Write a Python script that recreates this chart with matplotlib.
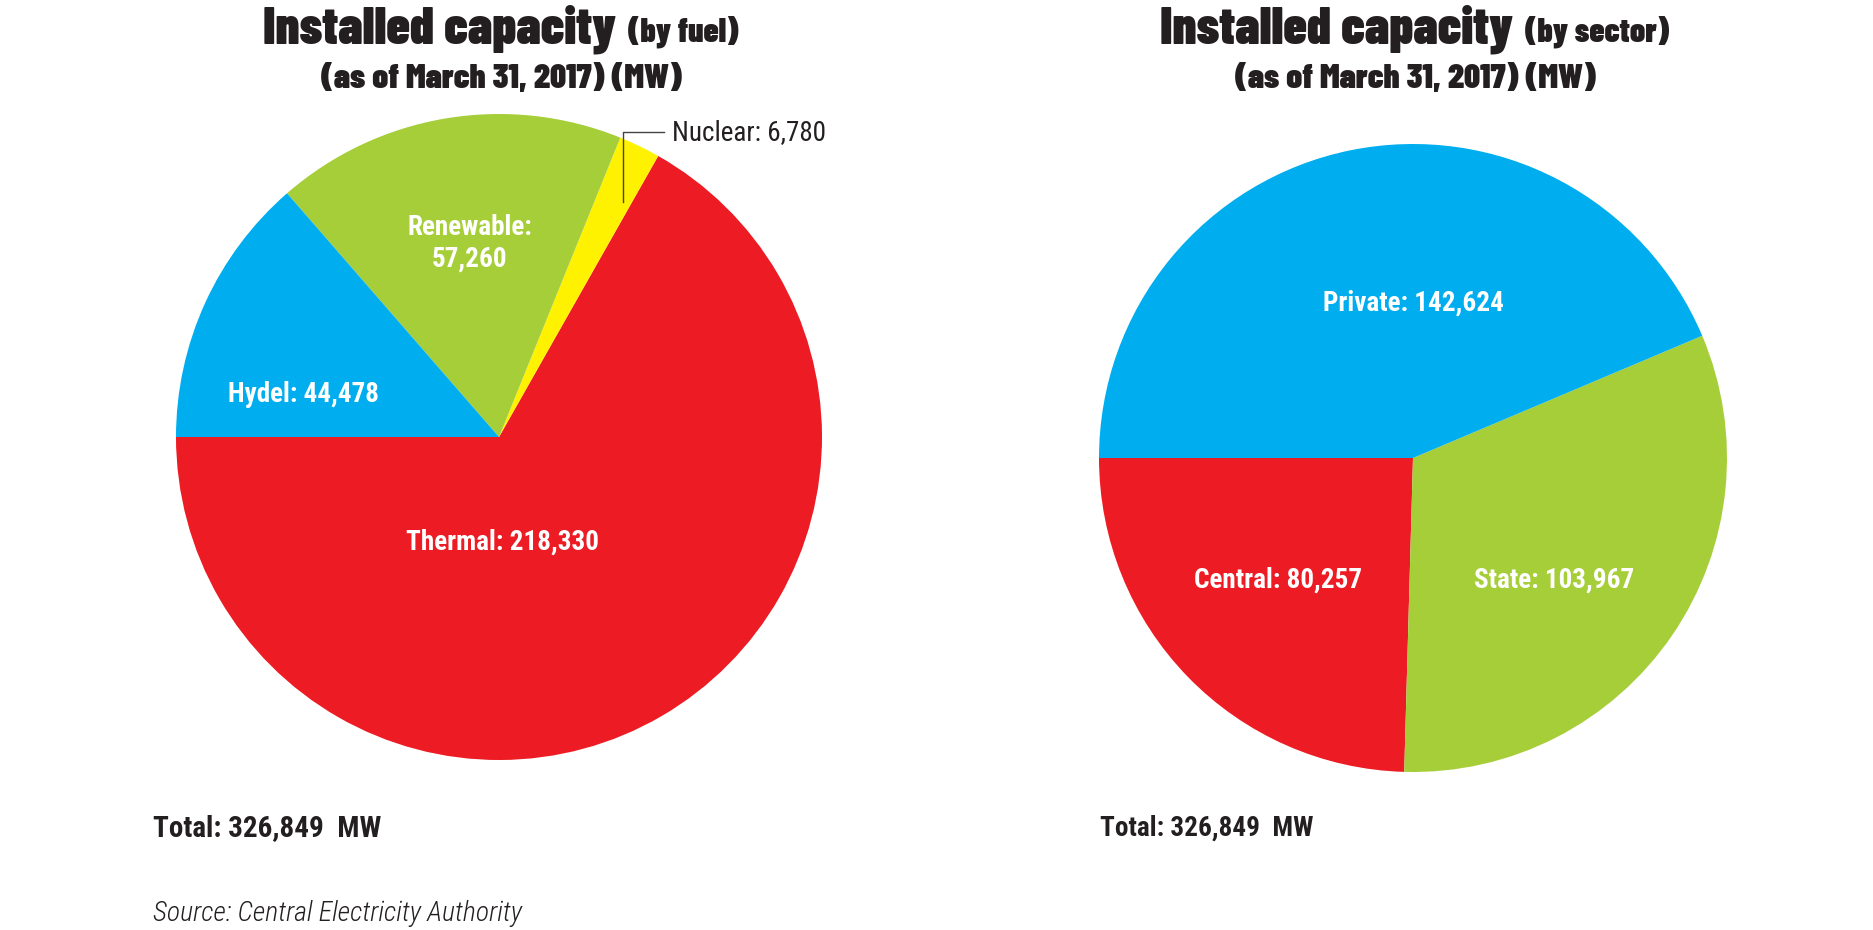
import matplotlib
matplotlib.use("Agg")
import matplotlib.pyplot as plt

# data (MW, as of March 31, 2017)
fuel_labels = ["Thermal", "Nuclear", "Renewable", "Hydel"]
fuel_values = [218330, 6780, 57260, 44478]
sector_labels = ["Central", "State", "Private"]
sector_values = [80257, 103967, 142624]
total_mw = 326849

RED = "#ED1C24"
BLUE = "#00AEEF"
GREEN = "#A6CE39"
YELLOW = "#FFF200"
INK = "#231F20"

fuel_colors = [RED, YELLOW, GREEN, BLUE]
sector_colors = [RED, GREEN, BLUE]

TITLE = ["Barlow Condensed", "DejaVu Sans"]
COND = ["Roboto Condensed", "DejaVu Sans"]

W, H = 1874, 930
fig = plt.figure(figsize=(W / 100, H / 100), dpi=100)


def pie_axes(cx, cy, r):
    # cx, cy, r in image pixels (y from top)
    ax = fig.add_axes([(cx - r) / W, (H - cy - r) / H, 2 * r / W, 2 * r / H])
    ax.set_aspect("equal")
    ax.axis("off")
    return ax


# left pie: by fuel
ax1 = pie_axes(499, 437, 323)
ax1.pie(fuel_values, colors=fuel_colors, startangle=180, counterclock=True,
        radius=1, wedgeprops=dict(linewidth=0))
ax1.set_xlim(-1, 1)
ax1.set_ylim(-1, 1)

lab = dict(family=COND, weight="bold", color="white", fontsize=19.5,
           ha="center", va="center")
fv = dict(zip(fuel_labels, fuel_values))
ax1.text(0.01, -0.325, f"Thermal: {fv['Thermal']:,}", **lab)
ax1.text(-0.605, 0.133, f"Hydel: {fv['Hydel']:,}", **lab)
ax1.text(-0.09, 0.60, f"Renewable:\n{fv['Renewable']:,}", linespacing=1.25, **lab)
ax1.plot([0.384, 0.384, 0.511], [0.728, 0.944, 0.944], color="#444444", lw=1.0,
         clip_on=False)
ax1.text(0.535, 0.944, f"Nuclear: {fv['Nuclear']:,}", family=COND, color=INK,
         fontsize=19.5, ha="left", va="center", clip_on=False)

# right pie: by sector
ax2 = pie_axes(1413, 458, 314)
ax2.pie(sector_values, colors=sector_colors, startangle=180, counterclock=True,
        radius=1, wedgeprops=dict(linewidth=0))
ax2.set_xlim(-1, 1)
ax2.set_ylim(-1, 1)
sv = dict(zip(sector_labels, sector_values))
ax2.text(0.0, 0.494, f"Private: {sv['Private']:,}", **lab)
ax2.text(-0.43, -0.39, f"Central: {sv['Central']:,}", **lab)
ax2.text(0.45, -0.39, f"State: {sv['State']:,}", **lab)


# titles
def title(cx, small):
    t = fig.text(0, 0, "Installed capacity", family=TITLE, weight="black",
                 fontsize=37.5, color=INK, ha="left", va="baseline")
    s = fig.text(0, 0, small, family=TITLE, weight="black", fontsize=24,
                 color=INK, ha="left", va="baseline")
    fig.canvas.draw()
    r = fig.canvas.get_renderer()
    w1 = t.get_window_extent(r).width
    w2 = s.get_window_extent(r).width
    gap = 12
    x0 = cx - (w1 + gap + w2) / 2
    t.set_position((x0 / W, 1 - 43 / H))
    s.set_position(((x0 + w1 + gap) / W, 1 - 42 / H))
    fig.text(cx / W, 1 - 88 / H, "(as of March 31, 2017) (MW)", family=TITLE,
             weight="black", fontsize=25, color=INK, ha="center", va="baseline")


title(501, "(by fuel)")
title(1415, "(by sector)")

fig.text(153 / W, 1 - 828 / H, f"Total: {total_mw:,}  MW", family=COND,
         weight="bold", fontsize=21, color=INK, ha="left", va="center")
fig.text(1100 / W, 1 - 828 / H, f"Total: {total_mw:,}  MW", family=COND,
         weight="bold", fontsize=19.5, color=INK, ha="left", va="center")
fig.text(153 / W, 1 - 913 / H, "Source: Central Electricity Authority", family=COND,
         style="italic", weight="light", fontsize=20, color=INK, ha="left",
         va="center")

fig.savefig("out.png", dpi=100)
